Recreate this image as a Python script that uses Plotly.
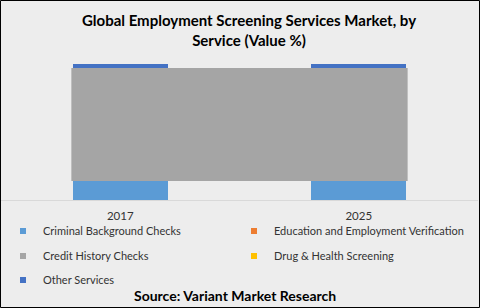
import numpy as np
import plotly.graph_objects as go

# Market share by service (value %), stacked bottom to top
years = ["2017", "2025"]
criminal = [14, 14]
education = [0, 0]
credit = [83, 83]
drug = [0, 0]
other = [3, 3]

series = [
    ("Criminal Background Checks", criminal, "#5B9BD5", "legend"),
    ("Education and Employment Verification", education, "#ED7D31", "legend"),
    ("Credit History Checks", credit, "#A5A5A5", "legend2"),
    ("Drug & Health Screening", drug, "#FFC000", "legend2"),
    ("Other Services", other, "#4472C4", "legend3"),
]

W, H = 480, 308
ML, MR, MT, MB = 1, 2, 64, 108
BAR_W = 0.4
FONT = "Lato, Open Sans, sans-serif"

fig = go.Figure()
for name, vals, color, leg in series:
    fig.add_trace(go.Bar(
        x=years, y=vals, name=name, marker=dict(color=color, line=dict(width=0)),
        width=BAR_W, showlegend=False, legendgroup=name,
    ))
for name, vals, color, leg in series:
    fig.add_trace(go.Scatter(
        x=[None], y=[None], mode="markers", name=name, legendgroup=name,
        marker=dict(symbol="square", size=6, color=color), legend=leg,
    ))

# Credit History band drawn across both columns
c0 = criminal[0]
fig.add_shape(
    type="rect", xref="x", yref="y", layer="above",
    x0=-BAR_W / 2 - 0.005, x1=1 + BAR_W / 2 + 0.005,
    y0=c0, y1=c0 + credit[0],
    fillcolor="#A5A5A5", line=dict(width=0),
)

# outer frame
pw, ph = W - ML - MR, H - MT - MB
fig.add_shape(
    type="rect", xref="paper", yref="paper", layer="above",
    x0=(0.5 - ML) / pw, x1=(W - 0.5 - ML) / pw,
    y0=-(H - 0.5 - MT - ph) / ph, y1=(MT - 0.5) / ph + 1,
    line=dict(color="#000000", width=1), fillcolor="rgba(0,0,0,0)",
)

def leg_y(py):
    return 1 - (py - MT) / ph

legend_common = dict(
    orientation="h", xanchor="left", yanchor="middle",
    entrywidth=186, entrywidthmode="pixels",
    font=dict(family=FONT, size=11, color="#333333"),
    bgcolor="rgba(0,0,0,0)", itemclick=False,
)
x_leg = (3 - ML) / pw

fig.update_layout(
    width=W, height=H,
    margin=dict(l=ML, r=MR, t=MT, b=MB),
    paper_bgcolor="#EDEDED", plot_bgcolor="#EDEDED",
    barmode="stack", bargap=0.6,
    title=dict(
        text="<b>Global Employment Screening Services Market, by<br>Service (Value %)</b>",
        x=249 / W, xanchor="center", y=1 - 26 / H, yanchor="middle",
        font=dict(family=FONT, size=15, color="#000000"),
    ),
    xaxis=dict(
        type="category", range=[-0.5, 1.5], showgrid=False, zeroline=False,
        showline=True, linecolor="#D9D9D9", linewidth=1, ticks="",
        ticklabelstandoff=5,
        tickfont=dict(family=FONT, size=11.5, color="#333333"),
    ),
    yaxis=dict(range=[0, 100], visible=False, showgrid=False),
    legend=dict(x=x_leg, y=leg_y(231), **legend_common),
    legend2=dict(x=x_leg, y=leg_y(256), **legend_common),
    legend3=dict(x=x_leg, y=leg_y(280), **legend_common),
    annotations=[dict(
        text="<b>Source: Variant Market Research</b>", xref="paper", yref="paper",
        x=(235 - ML) / pw, y=leg_y(295), xanchor="center", yanchor="middle",
        showarrow=False, font=dict(family=FONT, size=14, color="#000000"),
    )],
)

fig.write_html("out.html")
